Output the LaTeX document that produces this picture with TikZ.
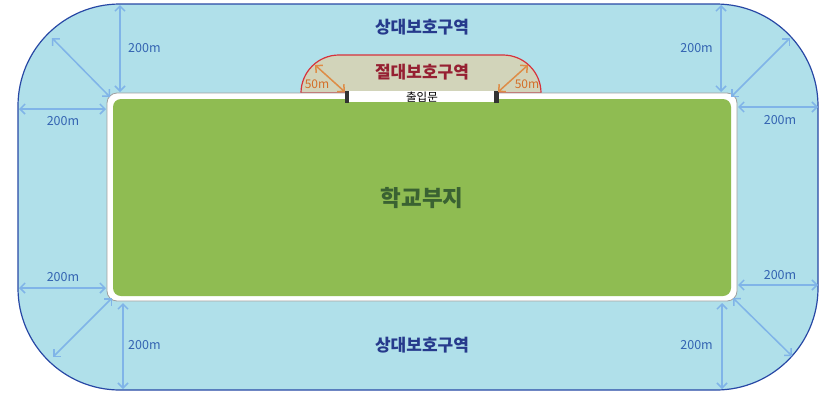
\documentclass[tikz,border=0pt]{standalone}
\usepackage{fontspec}
\newfontfamily\kr{Noto Sans CJK KR}
\usetikzlibrary{arrows.meta}
\definecolor{outerfill}{RGB}{176,224,234}
\definecolor{outerline}{RGB}{40,72,165}
\definecolor{absfill}{RGB}{210,212,186}
\definecolor{absline}{RGB}{215,50,60}
\definecolor{abstext}{RGB}{150,32,50}
\definecolor{schoolgreen}{RGB}{143,188,82}
\definecolor{schooltext}{RGB}{58,98,50}
\definecolor{reltext}{RGB}{38,58,140}
\definecolor{dimblue}{RGB}{128,180,232}
\definecolor{dimtext}{RGB}{52,100,178}
\definecolor{dimorange}{RGB}{222,140,70}
\definecolor{orangetext}{RGB}{212,110,40}
\begin{document}
\begin{tikzpicture}[x=1pt,y=-1pt,
  dimarrow/.style={draw=dimblue, line width=1.5pt, {Straight Barb[length=5pt,width=10pt]}-{Straight Barb[length=5pt,width=10pt]}},
  orarrow/.style={draw=dimorange, line width=1.5pt, {Straight Barb[length=5pt,width=10pt]}-{Straight Barb[length=5pt,width=10pt]}},
  dimlabel/.style={text=dimtext, font=\kr\fontsize{12.5}{12.5}\selectfont, inner sep=1pt},
  orlabel/.style={text=orangetext, font=\kr\fontsize{12}{12}\selectfont, inner sep=1pt},
  zonelabel/.style={font=\kr\bfseries\fontsize{17}{17}\selectfont, inner sep=1pt}]
\useasboundingbox (0,0) rectangle (819,392);
% relative protection zone
\draw[fill=outerfill, draw=outerline, line width=1.2pt, rounded corners=102pt] (18,4) rectangle (818,390);
% absolute protection zone
\draw[fill=absfill, draw=absline, line width=1.2pt] (301,93) arc[start angle=180, end angle=270, radius=38] -- (503,55) arc[start angle=270, end angle=360, radius=38] -- cycle;
% school area
\draw[fill=white, draw=gray!75, line width=0.8pt, rounded corners=10pt] (107,93) rectangle (737,301);
\fill[schoolgreen, rounded corners=8pt] (113,99) rectangle (731,296);
% gate
\fill[white] (347,91) rectangle (496,102);
\fill[black!80] (344.5,91) rectangle (349,102.5);
\fill[black!80] (494,91) rectangle (498.5,102.5);
\node (gate) at (422,97) {\kr\fontsize{11.5}{11.5}\selectfont 출입문};
% labels
\node[zonelabel, text=reltext] (reltop) at (422,27) {상대보호구역};
\node[zonelabel, text=reltext] (relbot) at (422,345) {상대보호구역};
\node[zonelabel, text=abstext] (abs) at (422,72) {절대보호구역};
\node[font=\kr\bfseries\fontsize{22.5}{22.5}\selectfont, text=schooltext] (school) at (422,198) {학교부지};
% coordinates
\coordinate (tlv1) at (120,5); \coordinate (tlv2) at (120,92);
\coordinate (tld1) at (52,38); \coordinate (tld2) at (110,97);
\coordinate (tlh1) at (19,109); \coordinate (tlh2) at (106,109);
\coordinate (trv1) at (721,5); \coordinate (trv2) at (721,92);
\coordinate (trd1) at (731,97); \coordinate (trd2) at (790,38);
\coordinate (trh1) at (738,107); \coordinate (trh2) at (818,107);
\coordinate (blh1) at (19,288); \coordinate (blh2) at (106,288);
\coordinate (bld1) at (112,298); \coordinate (bld2) at (53,357);
\coordinate (blv1) at (123,303); \coordinate (blv2) at (123,389);
\coordinate (brh1) at (738,285); \coordinate (brh2) at (818,285);
\coordinate (brd1) at (733,298); \coordinate (brd2) at (792,356);
\coordinate (brv1) at (722,303); \coordinate (brv2) at (722,389);
\coordinate (ol1) at (315,65); \coordinate (ol2) at (345,92);
\coordinate (or1) at (498,92); \coordinate (or2) at (528,65);
% arrows
\draw[dimarrow] (tlv1) -- (tlv2);
\draw[dimarrow] (tld1) -- (tld2);
\draw[dimarrow] (tlh1) -- (tlh2);
\draw[dimarrow] (trv1) -- (trv2);
\draw[dimarrow] (trd1) -- (trd2);
\draw[dimarrow] (trh1) -- (trh2);
\draw[dimarrow] (blh1) -- (blh2);
\draw[dimarrow] (bld1) -- (bld2);
\draw[dimarrow] (blv1) -- (blv2);
\draw[dimarrow] (brh1) -- (brh2);
\draw[dimarrow] (brd1) -- (brd2);
\draw[dimarrow] (brv1) -- (brv2);
\draw[orarrow] (ol1) -- (ol2);
\draw[orarrow] (or1) -- (or2);
% dimension labels
\node[dimlabel, anchor=west] (ltl) at (127,48) {200m};
\node[dimlabel] (ltlh) at (63,121) {200m};
\node[dimlabel, anchor=east] (ltr) at (714,48) {200m};
\node[dimlabel] (ltrh) at (780,120) {200m};
\node[dimlabel] (lblh) at (63,277) {200m};
\node[dimlabel, anchor=west] (lbl) at (127,345) {200m};
\node[dimlabel] (lbrh) at (780,275) {200m};
\node[dimlabel, anchor=east] (lbr) at (714,345) {200m};
\node[orlabel] (o1) at (317,84) {50m};
\node[orlabel] (o2) at (527,84) {50m};
\end{tikzpicture}
\end{document}
